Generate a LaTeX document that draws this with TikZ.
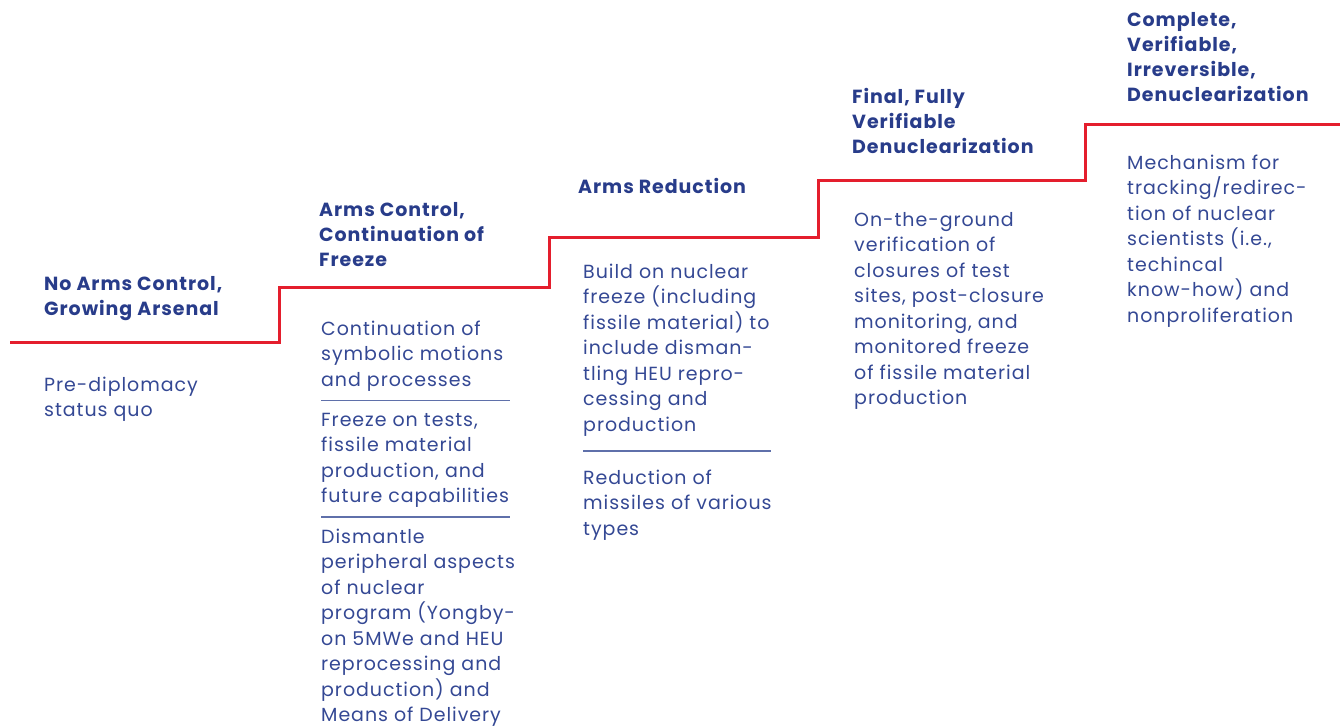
\documentclass[tikz,border=0pt]{standalone}
\usepackage{fontspec}
\setmainfont[LetterSpace=5]{Poppins}
\definecolor{stepred}{RGB}{228,30,45}
\definecolor{navy}{RGB}{40,60,138}
\definecolor{bodyblue}{RGB}{52,72,148}
\definecolor{rulecol}{RGB}{95,112,170}
\newcommand{\stack}[1]{\begin{tabular}[t]{@{}l@{}}#1\end{tabular}}

\begin{document}
\begin{tikzpicture}[x=1pt, y=-1pt,
        title/.style={anchor=base west, inner sep=0pt, text=navy,
            font=\fontsize{19}{25}\selectfont\bfseries},
        body/.style={anchor=base west, inner sep=0pt, text=bodyblue,
            font=\fontsize{19}{25.5}\selectfont},
        stair/.style={stepred, line width=3pt},
        sep/.style={rulecol, line width=1.4pt}]
    \useasboundingbox (0,0) rectangle (1340,725);

    % the stair
    \draw[stair] (10,342) -- (279,342) -- (279,287) -- (549,287) -- (549,237)
        -- (818,237) -- (818,180) -- (1085,180) -- (1085,124) -- (1340,124);

    % step 1
    \node[title] (t1) at (44,290) {\stack{No Arms Control,\\Growing Arsenal}};
    \node[body] (b1) at (44,391) {\stack{Pre-diplomacy\\status quo}};

    % step 2
    \node[title] (t2) at (319,216) {\stack{Arms Control,\\Continuation of\\Freeze}};
    \node[body] (b2a) at (321,335) {\stack{Continuation of\\symbolic motions\\and processes}};
    \node[body] (b2b) at (321,426) {\stack{Freeze on tests,\\fissile material\\production, and\\future capabilities}};
    \node[body] (b2c) at (321,543) {\stack{Dismantle\\peripheral aspects\\of nuclear\\program (Yongby-\\on 5MWe and HEU\\reprocessing and\\production) and\\Means of Delivery}};
    \coordinate (s2a) at (321,400.5);
    \coordinate (s2b) at (321,517);
    \draw[sep] (s2a) -- ++(189,0);
    \draw[sep] (s2b) -- ++(189,0);

    % step 3
    \node[title] (t3) at (578,193) {\stack{Arms Reduction}};
    \node[body] (b3a) at (583,278) {\stack{Build on nuclear\\freeze (including\\fissile material) to\\include disman-\\tling HEU repro-\\cessing and\\production}};
    \node[body] (b3b) at (583,484) {\stack{Reduction of\\missiles of various\\types}};
    \coordinate (s3) at (583,451);
    \draw[sep] (s3) -- ++(188,0);

    % step 4
    \node[title] (t4) at (852,103) {\stack{Final, Fully\\Verifiable\\Denuclearization}};
    \node[body] (b4) at (854,226) {\stack{On-the-ground\\verification of\\closures of test\\sites, post-closure\\monitoring, and\\monitored freeze\\of fissile material\\production}};

    % step 5
    \node[title] (t5) at (1127,27) {\stack{Complete,\\Verifiable,\\Irreversible,\\Denuclearization}};
    \node[body] (b5) at (1127,169) {\stack{Mechanism for\\tracking/redirec-\\tion of nuclear\\scientists (i.e.,\\techincal\\know-how) and\\nonproliferation}};
\end{tikzpicture}
\end{document}
